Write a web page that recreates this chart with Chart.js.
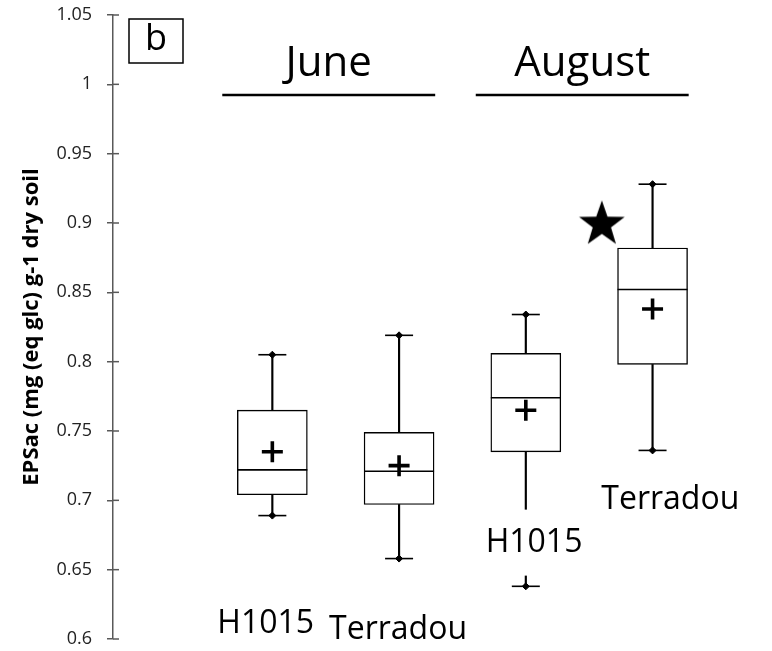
<!DOCTYPE html>
<html>
<head>
<meta charset="utf-8">
<script src="https://cdn.jsdelivr.net/npm/chart.js@4.4.0/dist/chart.umd.min.js"></script>
<style>
  body { margin: 0; background: #fff; }
  #wrap { width: 772px; height: 651px; }
</style>
</head>
<body>
<div id="wrap"><canvas id="mychart"></canvas></div>
<script>
// data
const months = ['June', 'August'];
const cultivars = ['H1015', 'Terradou', 'H1015', 'Terradou'];
const boxX = [1, 2, 3, 4];
const whiskerLow = [0.689, 0.658, 0.638, 0.736];
const q1 = [0.704, 0.697, 0.735, 0.798];
const median = [0.722, 0.721, 0.774, 0.852];
const q3 = [0.765, 0.749, 0.806, 0.882];
const whiskerHigh = [0.805, 0.819, 0.834, 0.928];
const means = [0.735, 0.725, 0.765, 0.838];
const starX = [3.6];
const starY = [0.899];
const tickLabels = ['0.6', '0.65', '0.7', '0.75', '0.8', '0.85', '0.9', '0.95', '1', '1.05'];

const FONT = "'Open Sans', sans-serif";
const ctx = document.getElementById('mychart').getContext('2d');

// filled five point star used as point style
const starImg = document.createElement('canvas');
starImg.width = 50; starImg.height = 50;
(function () {
    const s = starImg.getContext('2d');
    s.beginPath();
    for (let i = 0; i < 10; i++) {
        const r = i % 2 === 0 ? 24 : 9.6;
        const a = -Math.PI / 2 + i * Math.PI / 5;
        s.lineTo(25 + r * Math.cos(a), 25 + r * Math.sin(a));
    }
    s.closePath();
    s.fillStyle = '#000';
    s.fill();
})();

const pts = (ys) => boxX.map((x, i) => ({x: x, y: ys[i]}));

// inner half of the y axis tick marks, headers, category labels, panel letter
const decor = {
    id: 'decor',
    afterDraw(chart) {
        const c = chart.ctx;
        const xs = chart.scales.x, ys = chart.scales.y;
        const area = chart.chartArea;
        c.save();
        c.strokeStyle = '#595959';
        c.lineWidth = 1.5;
        ys.ticks.forEach((t, i) => {
            const py = ys.getPixelForTick(i);
            c.beginPath();
            c.moveTo(area.left, py);
            c.lineTo(area.left + 6, py);
            c.stroke();
        });

        // month headers with rules underneath
        c.fillStyle = '#000';
        c.strokeStyle = '#000';
        c.lineWidth = 2.5;
        c.textAlign = 'center';
        c.textBaseline = 'middle';
        c.font = '42px ' + FONT;
        months.forEach((m, g) => {
            const cx = 1 + 2 * g + 0.445;
            const x0 = xs.getPixelForValue(cx - 0.84);
            const x1 = xs.getPixelForValue(cx + 0.84);
            const ly = ys.getPixelForValue(0.9923);
            c.beginPath();
            c.moveTo(x0, ly);
            c.lineTo(x1, ly);
            c.stroke();
            c.fillText(m, xs.getPixelForValue(cx), ys.getPixelForValue(1.015));
        });

        // cultivar labels
        const labelPos = [[0.948, 0.611], [1.992, 0.6065], [3.065, 0.6695], [4.14, 0.7005]];
        c.font = '32px ' + FONT;
        cultivars.forEach((name, i) => {
            const px = xs.getPixelForValue(labelPos[i][0]);
            const py = ys.getPixelForValue(labelPos[i][1]);
            if (i === 2) {
                // the label sits on the whisker, hide it behind the text
                const w = c.measureText(name).width;
                c.fillStyle = '#fff';
                c.fillRect(px - w / 2 - 4, py - 33, w + 8, 66);
                c.fillStyle = '#000';
            }
            c.fillText(name, px, py);
        });

        // panel letter
        c.lineWidth = 1.5;
        c.strokeRect(area.left + 16, area.top + 4, 54, 44);
        c.font = '36px ' + FONT;
        c.fillText('b', area.left + 43, area.top + 25);
        c.restore();
    }
};

const chart = new Chart(ctx, {
    type: 'bar',
    data: {
        datasets: [
            // lower and upper whiskers
            {
                type: 'bar',
                data: boxX.map((x, i) => ({x: x, y: [whiskerLow[i], q1[i]]})),
                backgroundColor: '#000',
                borderWidth: 0,
                barThickness: 1.5,
                grouped: false,
                order: 5
            },
            {
                type: 'bar',
                data: boxX.map((x, i) => ({x: x, y: [q3[i], whiskerHigh[i]]})),
                backgroundColor: '#000',
                borderWidth: 0,
                barThickness: 1.5,
                grouped: false,
                order: 5
            },
            // boxes
            {
                type: 'bar',
                data: boxX.map((x, i) => ({x: x, y: [q1[i], q3[i]]})),
                backgroundColor: '#fff',
                borderColor: '#000',
                borderWidth: 1.4,
                borderSkipped: false,
                barThickness: 70,
                grouped: false,
                order: 4
            },
            // medians
            {
                type: 'scatter',
                data: pts(median),
                pointStyle: 'line',
                pointRadius: 35,
                borderColor: '#000',
                borderWidth: 1.6,
                order: 3
            },
            // whisker caps
            {
                type: 'scatter',
                data: pts(whiskerLow).concat(pts(whiskerHigh)),
                pointStyle: 'line',
                pointRadius: 14,
                borderColor: '#000',
                borderWidth: 1.6,
                order: 3
            },
            {
                type: 'scatter',
                data: pts(whiskerLow).concat(pts(whiskerHigh)),
                pointStyle: 'rectRot',
                pointRadius: 3.5,
                backgroundColor: '#000',
                borderColor: '#000',
                borderWidth: 1,
                order: 2
            },
            // means
            {
                type: 'scatter',
                data: pts(means),
                pointStyle: 'cross',
                pointRadius: 10.5,
                borderColor: '#000',
                borderWidth: 3.6,
                order: 1
            },
            // significance star
            {
                type: 'scatter',
                data: starX.map((x, i) => ({x: x, y: starY[i]})),
                pointStyle: starImg,
                order: 1
            }
        ]
    },
    options: {
        responsive: true,
        maintainAspectRatio: false,
        animation: false,
        layout: { autoPadding: false, padding: { top: 15, bottom: 12, left: 0, right: 7 } },
        plugins: {
            legend: { display: false },
            tooltip: { enabled: false }
        },
        scales: {
            x: {
                type: 'linear',
                min: 0,
                max: 4.63,
                display: false
            },
            y: {
                min: 0.6,
                max: 1.05,
                afterFit(scale) {
                    scale.width = 113;
                    scale.paddingTop = 0;
                    scale.paddingBottom = 0;
                },
                ticks: {
                    stepSize: 0.05,
                    padding: 15,
                    color: '#222',
                    font: { family: FONT, size: 18 },
                    callback: (v, i) => tickLabels[i]
                },
                grid: {
                    drawOnChartArea: false,
                    drawTicks: true,
                    tickLength: 6,
                    color: '#595959',
                    lineWidth: 1.5
                },
                border: { display: true, color: '#595959', width: 1.5 },
                title: {
                    display: true,
                    text: 'EPSac (mg (eq glc) g-1 dry soil',
                    color: '#000',
                    font: { family: FONT, size: 22, weight: 'bold' },
                    padding: { top: 19, bottom: 0 }
                }
            }
        }
    },
    plugins: [decor]
});
</script>
</body>
</html>
